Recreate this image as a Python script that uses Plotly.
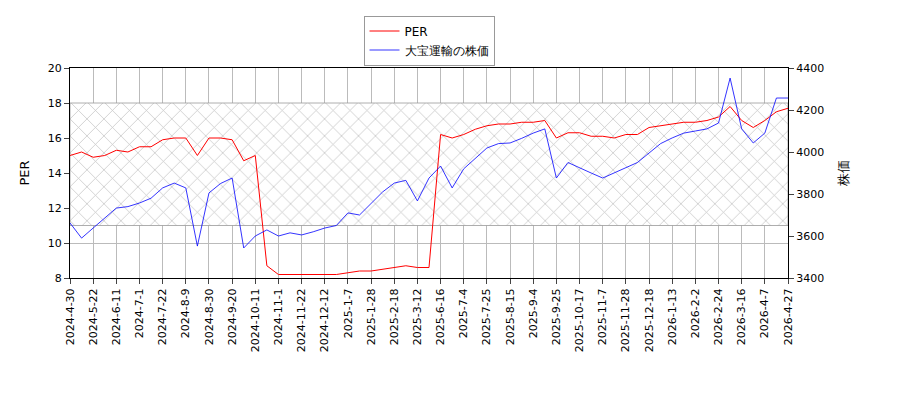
import plotly.graph_objects as go

tick_labels = ["2024-4-30", "2024-5-22", "2024-6-11", "2024-7-1", "2024-7-22", "2024-8-9",
               "2024-8-30", "2024-9-20", "2024-10-11", "2024-11-1", "2024-11-22", "2024-12-12",
               "2025-1-7", "2025-1-28", "2025-2-18", "2025-3-12", "2025-6-16", "2025-7-4",
               "2025-7-25", "2025-8-15", "2025-9-4", "2025-9-25", "2025-10-17", "2025-11-7",
               "2025-11-28", "2025-12-18", "2026-1-13", "2026-2-2", "2026-2-24", "2026-3-16",
               "2026-4-7", "2026-4-27"]

per = [15.0, 15.2, 14.9, 15.0, 15.3, 15.2, 15.5, 15.5, 15.9, 16.0, 16.0, 15.0, 16.0, 16.0,
       15.9, 14.7, 15.0, 8.7, 8.2, 8.2, 8.2, 8.2, 8.2, 8.2, 8.3, 8.4, 8.4, 8.5, 8.6, 8.7,
       8.6, 8.6, 16.2, 16.0, 16.2, 16.5, 16.7, 16.8, 16.8, 16.9, 16.9, 17.0, 16.0, 16.3,
       16.3, 16.1, 16.1, 16.0, 16.2, 16.2, 16.6, 16.7, 16.8, 16.9, 16.9, 17.0, 17.2, 17.8,
       17.0, 16.6, 17.0, 17.5, 17.7]

price = [3662, 3590, 3638, 3686, 3733, 3740, 3757, 3780, 3829, 3852, 3829, 3552, 3805, 3850,
         3876, 3543, 3600, 3629, 3600, 3615, 3605, 3620, 3638, 3650, 3710, 3700, 3757, 3810,
         3852, 3865, 3767, 3876, 3933, 3829, 3920, 3971, 4019, 4040, 4043, 4065, 4090, 4110,
         3876, 3950, 3924, 3900, 3876, 3900, 3924, 3950, 3995, 4040, 4067, 4090, 4100, 4110,
         4138, 4352, 4110, 4043, 4090, 4257, 4257]

x = list(range(0, 7 * len(per), 7))
tick_pos = list(range(0, 14 * len(tick_labels), 14))

font = "DejaVu Sans"
fig = go.Figure()

# hatched reference band (PER 11-18)
fig.add_trace(go.Scatter(x=[x[0], x[-1], x[-1], x[0], x[0]], y=[11, 11, 18, 18, 11],
                         fill="toself", mode="lines", line=dict(width=0.8, color="#999999"),
                         fillcolor="rgba(0,0,0,0)",
                         fillpattern=dict(shape="x", fgcolor="#888888", bgcolor="white",
                                          size=12, solidity=0.12),
                         showlegend=False, hoverinfo="skip"))

fig.add_trace(go.Scatter(x=x, y=per, mode="lines", name="PER",
                         line=dict(color="red", width=1)))
fig.add_trace(go.Scatter(x=x, y=price, mode="lines", name="大宝運輸の株価",
                         line=dict(color="blue", width=0.8), yaxis="y2"))

fig.update_layout(
    width=900, height=400,
    paper_bgcolor="white", plot_bgcolor="white",
    font=dict(family=font, size=11, color="black"),
    margin=dict(l=62, r=120, t=60, b=130, autoexpand=False),
    legend=dict(x=0.5, y=1.25, xanchor="center", yanchor="top",
                bordercolor="#999999", borderwidth=1, font=dict(size=12)),
    xaxis=dict(range=[x[0], x[-1]], tickvals=tick_pos, ticktext=tick_labels,
               tickangle=-90, showgrid=True, gridcolor="#bbbbbb", automargin=False,
               showline=True, linecolor="black", mirror=True, ticks="outside",
               zeroline=False),
    yaxis=dict(title="PER", range=[8, 20], dtick=2, showgrid=True, gridcolor="#bbbbbb",
               automargin=False,
               showline=True, linecolor="black", ticks="outside", zeroline=False),
    yaxis2=dict(title="株価", overlaying="y", side="right", range=[3400, 4400], dtick=200,
                showgrid=False, showline=True, linecolor="black", ticks="outside",
                automargin=False, zeroline=False),
)

fig.write_html("out.html")
